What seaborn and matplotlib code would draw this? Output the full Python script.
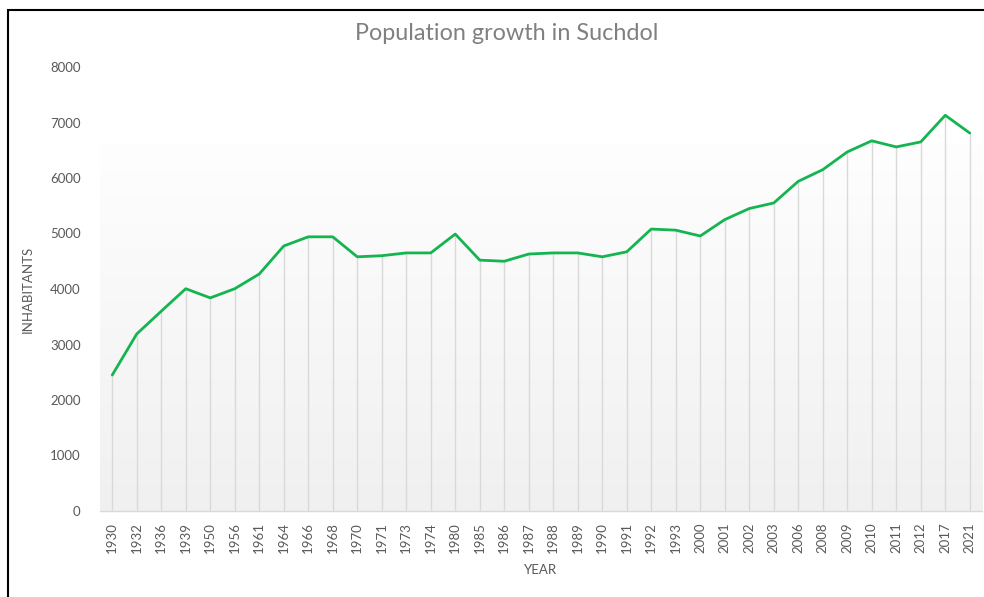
import numpy as np
import pandas as pd
import matplotlib
matplotlib.use("Agg")
import matplotlib.pyplot as plt
import seaborn as sns
from matplotlib.patches import Rectangle
from matplotlib.colors import LinearSegmentedColormap

years = ["1930", "1932", "1936", "1939", "1950", "1956", "1961", "1964", "1966", "1968",
         "1970", "1971", "1973", "1974", "1980", "1985", "1986", "1987", "1988", "1989",
         "1990", "1991", "1992", "1993", "2000", "2001", "2002", "2003", "2006", "2008",
         "2009", "2010", "2011", "2012", "2017", "2021"]
inhabitants = [2450, 3190, 3600, 4005, 3840, 4005, 4270, 4775, 4940, 4940,
               4580, 4600, 4650, 4650, 4990, 4520, 4500, 4630, 4650, 4650,
               4580, 4670, 5080, 5060, 4955, 5250, 5450, 5550, 5940, 6150,
               6470, 6670, 6560, 6650, 7130, 6810]
yticks = [0, 1000, 2000, 3000, 4000, 5000, 6000, 7000, 8000]

df = pd.DataFrame({"YEAR": years, "INHABITANTS": inhabitants})

sns.set_theme(style="white")
plt.rcParams["font.family"] = ["Lato", "DejaVu Sans"]

fig = plt.figure(figsize=(9.84, 5.97), dpi=100)
ax = fig.add_axes([100 / 984, 1 - 511 / 597, 882 / 984, 444 / 597])

n = len(years)
xpos = np.arange(n)

# gradient background
grad = np.linspace(0, 1, 256).reshape(-1, 1)
cmap = LinearSegmentedColormap.from_list("g", ["#f0f0f0", "#fefefe"])
ax.imshow(grad, aspect="auto", cmap=cmap, origin="lower",
          extent=(-0.5, n - 0.5, 0, 6600), zorder=0)

# drop lines
ax.vlines(xpos, 0, df["INHABITANTS"], colors="#d9d9d9", linewidth=1.0, zorder=1)

sns.lineplot(data=df, x="YEAR", y="INHABITANTS", ax=ax, color="#14b450",
             linewidth=2.0, sort=False, zorder=3)

ax.set_xlim(-0.5, n - 0.5)
ax.set_ylim(0, 8000)
ax.set_yticks(yticks)
ax.set_yticklabels([str(v) for v in yticks], fontsize=9.5, color="#595959")
ax.set_xticks(xpos)
ax.set_xticklabels(years, rotation=90, fontsize=9.5, color="#595959")
ax.tick_params(axis="both", length=0)
ax.tick_params(axis="y", pad=14)
ax.tick_params(axis="x", pad=8)
ax.set_facecolor("white")
for s in ["top", "right", "left"]:
    ax.spines[s].set_visible(False)
ax.spines["bottom"].set_color("#d9d9d9")
ax.spines["bottom"].set_linewidth(1.0)
ax.grid(False)

ax.set_xlabel("YEAR", fontsize=9.5, color="#595959", labelpad=8)
ax.set_ylabel("INHABITANTS", fontsize=9.5, color="#595959", labelpad=12)

fig.text(507 / 984, 1 - 33 / 597, "Population growth in Suchdol", ha="center", va="center",
         fontsize=16.8, color="#808080")

# outer frame
fig.patches.append(Rectangle((8 / 984, -0.02), 1.0, 1 - 10 / 597 + 0.02,
                             transform=fig.transFigure, fill=False,
                             edgecolor="black", linewidth=1.5, zorder=10))

fig.savefig("out.png", dpi=100)
